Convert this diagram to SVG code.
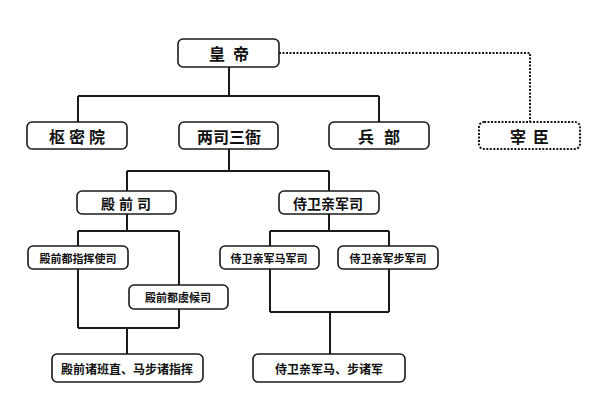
<svg xmlns="http://www.w3.org/2000/svg" width="596" height="408" viewBox="0 0 596 408">
<style>
.box{fill:#fff;stroke:#1a1a1a;stroke-width:1.6}
.dot{fill:#fff;stroke:#1a1a1a;stroke-width:2;stroke-dasharray:2 1.5}
.ln{fill:none;stroke:#1a1a1a;stroke-width:2}
.dl{fill:none;stroke:#1a1a1a;stroke-width:2;stroke-dasharray:2 1.5}
text{font-family:"Noto Sans CJK SC","Noto Sans CJK TC",sans-serif;font-weight:bold;fill:#111;text-anchor:middle;dominant-baseline:central}
.t1{font-size:16px}
.t2{font-size:14px}
.t3{font-size:11px}
.t4{font-size:12px}
</style>
<rect width="596" height="408" fill="#fff"/>
<g id="connectors">
<path class="dl" d="M279,53 H530 V122"/>
<path class="ln" d="M229,67 V96 M78,96 H379 M78,96 V122 M379,96 V122"/>
<path class="ln" d="M229,149 V171 M127,171 H329 M127,171 V191 M329,171 V191"/>
<path class="ln" d="M127,214 V231 M78,231 H179 M78,231 V328 M179,231 V328 M78,328 H179 M127,328 V354"/>
<path class="ln" d="M329,214 V231 M270,231 H389 M270,231 V312 M389,231 V312 M270,312 H389 M330,312 V354"/>
</g>
<g id="huangdi"><rect class="box" x="178" y="39" width="101" height="28" rx="5"/><text class="t1" x="233" y="53" letter-spacing="8">皇帝</text></g>
<g id="shumiyuan"><rect class="box" x="27" y="122" width="100" height="27" rx="5"/><text class="t1" x="79" y="136" letter-spacing="4">枢密院</text></g>
<g id="liangsisanya"><rect class="box" x="179" y="122" width="99" height="27" rx="5"/><text class="t1" x="229" y="136">两司三衙</text></g>
<g id="bingbu"><rect class="box" x="329" y="122" width="100" height="27" rx="5"/><text class="t1" x="384" y="136" letter-spacing="10">兵部</text></g>
<g id="zaichen"><rect class="dot" x="479" y="122" width="101" height="27" rx="5"/><text class="t1" x="533" y="136" letter-spacing="7">宰臣</text></g>
<g id="dianqiansi"><rect class="box" x="77" y="191" width="99" height="23" rx="5"/><text class="t2" x="128" y="203" letter-spacing="4">殿前司</text></g>
<g id="shiweiqinjunsi"><rect class="box" x="279" y="191" width="100" height="23" rx="5"/><text class="t2" x="328" y="203">侍卫亲军司</text></g>
<g id="dianqianduzhihuishisi"><rect class="box" x="28" y="246" width="100" height="23" rx="5"/><text class="t3" x="78" y="258">殿前都指挥使司</text></g>
<g id="dianqianduyuhousi"><rect class="box" x="129" y="285" width="99" height="24" rx="5"/><text class="t3" x="178" y="297">殿前都虞候司</text></g>
<g id="majunsi"><rect class="box" x="220" y="246" width="99" height="23" rx="5"/><text class="t3" x="269" y="258">侍卫亲军马军司</text></g>
<g id="bujunsi"><rect class="box" x="338" y="246" width="100" height="23" rx="5"/><text class="t3" x="388" y="258">侍卫亲军步军司</text></g>
<g id="dianqianzhubanzhi"><rect class="box" x="52" y="354" width="151" height="28" rx="5"/><text class="t4" x="127" y="368">殿前诸班直、马步诸指挥</text></g>
<g id="shiweizhujun"><rect class="box" x="253" y="354" width="152" height="28" rx="5"/><text class="t4" x="329" y="368">侍卫亲军马、步诸军</text></g>
</svg>
